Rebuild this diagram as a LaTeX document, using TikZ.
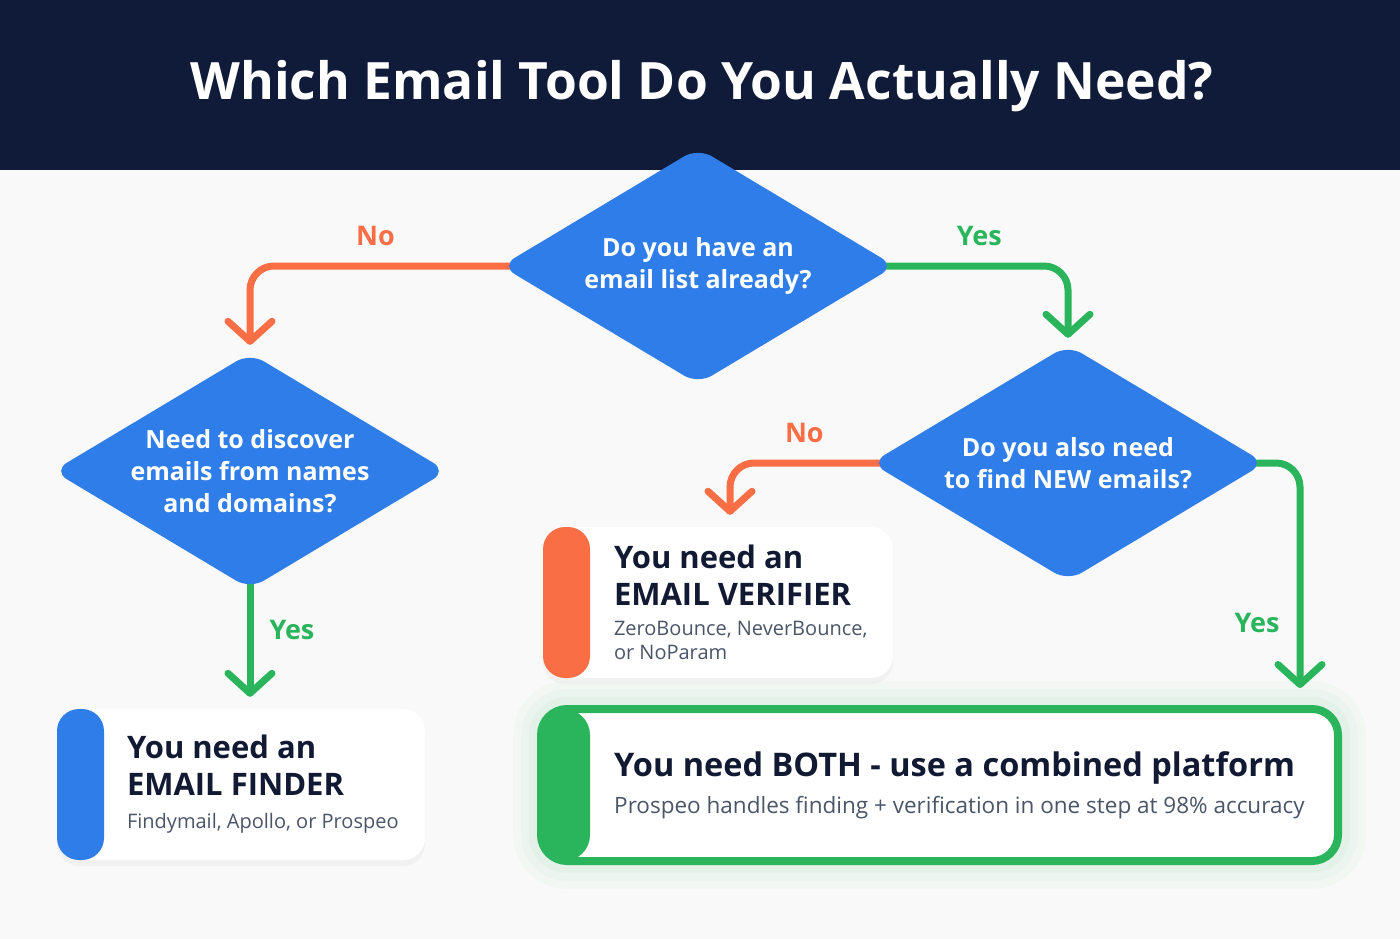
\documentclass[tikz,border=0pt]{standalone}
\usepackage{fontspec}
\setmainfont{Open Sans}
\usetikzlibrary{arrows.meta,positioning,shapes.geometric,shadows,backgrounds}
\definecolor{Navy}{HTML}{0F1B38}
\definecolor{Ink}{HTML}{121A33}
\definecolor{Slate}{HTML}{4A5568}
\definecolor{Azure}{HTML}{2F7DE8}
\definecolor{Coral}{HTML}{FA6E45}
\definecolor{Leaf}{HTML}{2AB55C}
\definecolor{Paper}{HTML}{F8F9F8}
\newcommand\fsz[2]{\fontsize{#1}{#2}\selectfont}

\begin{document}
\begin{tikzpicture}[x=1pt, y=-1pt,
        decision/.style={diamond, fill=Azure, rounded corners=16pt, minimum width=394pt,
          minimum height=236pt, inner sep=0pt},
        question/.style={text=white, align=center, font=\fsz{25}{32}\bfseries},
        result/.style={rectangle, fill=white, rounded corners=22pt, minimum height=151pt,
          drop shadow={opacity=0.06, shadow xshift=0pt, shadow yshift=-6pt},
          path picture={\fill[#1] (path picture bounding box.north west)
            rectangle ([xshift=47pt]path picture bounding box.south west);}},
        bothbox/.style={rectangle, fill=white, draw=Leaf, line width=8pt, rounded corners=26pt,
          minimum width=797pt, minimum height=152pt,
          preaction={draw=Leaf, line width=56pt, opacity=0.02},
          preaction={draw=Leaf, line width=40pt, opacity=0.03},
          preaction={draw=Leaf, line width=24pt, opacity=0.045},
          path picture={\fill[Leaf] (path picture bounding box.north west)
            rectangle ([xshift=49pt]path picture bounding box.south west);}},
        answer/.style={anchor=west, align=flush left, text=Ink, inner sep=0pt},
        lbl/.style={font=\fsz{27}{30}\bfseries, inner sep=0pt, text depth=0pt},
        yesarrow/.style={-{Straight Barb[length=20pt, width=44pt, round]}, line width=7pt,
          draw=Leaf, rounded corners=24pt},
        noarrow/.style={yesarrow, draw=Coral}
      ]
        \useasboundingbox (0,0) rectangle (1400,939);
        \begin{scope}[on background layer]
        \fill[Paper] (0,0) rectangle (1400,939);
        \fill[Navy] (0,0) rectangle (1400,170);
        \end{scope}
        \node[font=\fsz{51.5}{60}\bfseries, text=white] (title) at (702,86)
          {Which Email Tool Do You Actually Need?};

        % questions
        \node[decision] (q1) at (698,266) {};
        \node[question] (q1t) at (q1) {Do you have an\\email list already?};
        \node[decision] (q2) at (250,471) {};
        \node[question] (q2t) at (q2) {Need to discover\\emails from names\\and domains?};
        \node[decision] (q3) at (1068,463) {};
        \node[question] (q3t) at (q3) {Do you also need\\to find NEW emails?};

        % answers
        \node[result=Azure, minimum width=368pt] (finder) at (241,784.5) {};
        \node[answer, text width=290pt] (findert) at ([xshift=70pt]finder.west)
          {{\fsz{31}{37}\bfseries You need an\\EMAIL FINDER\par}\vspace{8pt}
           {\fsz{20}{25}\color{Slate}Findymail, Apollo, or Prospeo\par}};
        \node[result=Coral, minimum width=350pt] (verifier) at (718,602.5) {};
        \node[answer, text width=290pt] (verifiert) at ([xshift=71pt]verifier.west)
          {{\fsz{31}{37}\bfseries You need an\\EMAIL VERIFIER\par}\vspace{6pt}
           {\fsz{20}{24}\color{Slate}ZeroBounce, NeverBounce,\\or NoParam\par}};
        \node[bothbox] (both) at (939.5,785) {};
        \node[answer, text width=720pt] (botht) at ([xshift=77pt]both.west)
          {{\fsz{32.5}{37}\bfseries You need BOTH - use a combined platform\par}\vspace{11pt}
           {\fsz{22.5}{25}\color{Slate}Prospeo handles finding + verification in one step at 98\% accuracy\par}};

        % connectors, behind the diamonds
        \begin{scope}[on background layer]
        \draw[noarrow, shorten >=8pt] (q1.center) -| node[lbl, text=Coral, pos=0.36, above=17pt] {No} (q2.north);
        \draw[yesarrow, shorten >=7pt] (q1.center) -| node[lbl, text=Leaf, pos=0.38, above=17pt] {Yes} (q3.north);
        \draw[yesarrow, shorten >=12pt] (q2.center) -- node[lbl, text=Leaf, pos=0.67, right=16pt] {Yes} (q2.center |- finder.north);
        \draw[noarrow, shorten >=12pt] (q3.center) -| node[lbl, text=Coral, pos=0.39, above=17pt] {No} ([xshift=12pt]verifier.north);
        \draw[yesarrow, shorten >=17pt] (q3.center) -| node[lbl, text=Leaf, pos=0.83, left=17pt] {Yes} ([xshift=-42pt]both.north east);
        \end{scope}
      \end{tikzpicture}
\end{document}
